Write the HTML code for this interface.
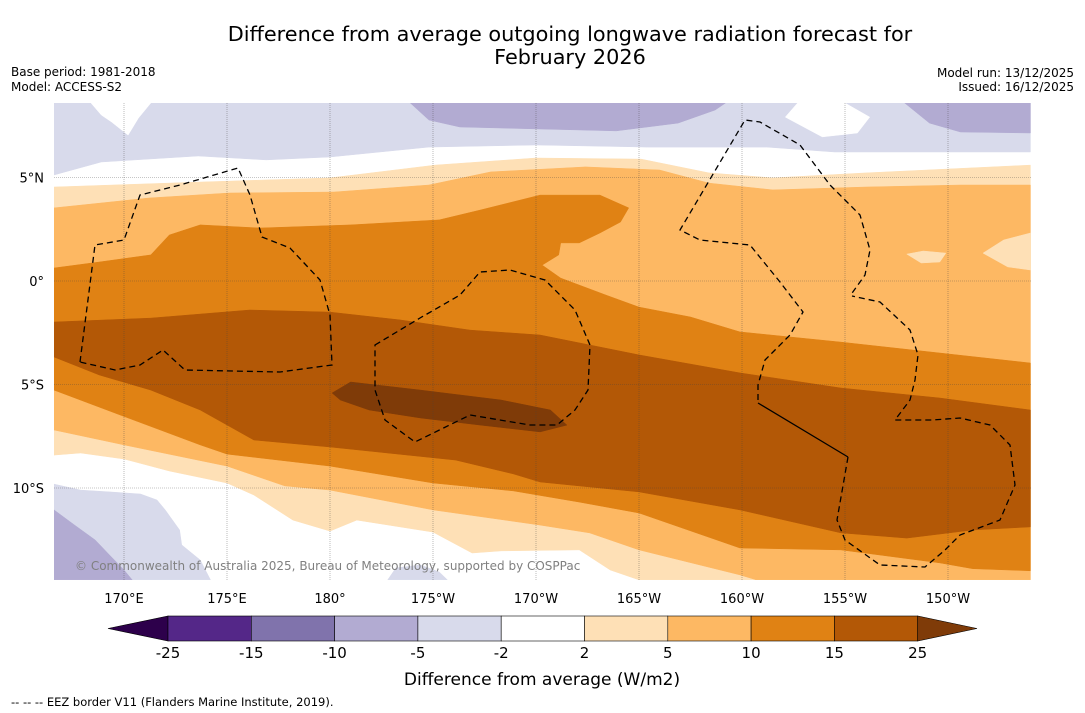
<!DOCTYPE html>
<html><head><meta charset="utf-8"><style>
html,body{margin:0;padding:0;background:#fff;width:1085px;height:713px;overflow:hidden;font-family:"DejaVu Sans","Liberation Sans",sans-serif}
svg{display:block}
</style></head><body>
<svg id="chart" width="1085" height="713" viewBox="0 0 1085 713" xmlns="http://www.w3.org/2000/svg">
<text x="570" y="41" text-anchor="middle" font-size="20.8">Difference from average outgoing longwave radiation forecast for</text>
<text x="570" y="64" text-anchor="middle" font-size="20.8">February 2026</text>
<text x="11" y="76" font-size="12">Base period: 1981-2018</text>
<text x="11" y="91" font-size="12">Model: ACCESS-S2</text>
<text x="1074" y="77" text-anchor="end" font-size="12">Model run: 13/12/2025</text>
<text x="1074" y="91" text-anchor="end" font-size="12">Issued: 16/12/2025</text>
<defs><clipPath id="plotclip"><rect x="54" y="103" width="977" height="477"/></clipPath></defs>
<g id="map" clip-path="url(#plotclip)">
<rect x="54" y="103" width="977" height="477" fill="#ffffff"/>
</g>
<g id="grid"></g>
<g id="eez" clip-path="url(#plotclip)"></g>
<g id="axes"></g>
<text x="75" y="570" font-size="12" fill="#808080">© Commonwealth of Australia 2025, Bureau of Meteorology, supported by COSPPac</text>
<g id="colorbar"></g>
<text x="542" y="685" text-anchor="middle" font-size="17">Difference from average (W/m2)</text>
<text x="11" y="706" font-size="11.5">--  --  -- EEZ border V11 (Flanders Marine Institute, 2019).</text>
</svg>
<script>
// ---- data ----
const lonTicks = [170,175,180,185,190,195,200,205,210];
const lonTickLabels = ["170°E","175°E","180°","175°W","170°W","165°W","160°W","155°W","150°W"];
const latTicks = [5,0,-5,-10];
const latTickLabels = ["5°N","0°","5°S","10°S"];
const levels = [-25,-15,-10,-5,-2,2,5,10,15,25];
const levelColors = ["#542788","#8073ac","#b2abd2","#d8daeb","#ffffff","#fee0b6","#fdb863","#e08214","#b35806"];
const underColor = "#2d004b";
const overColor = "#7f3b08";

// contour bands as [lon(°E, 0-360), lat]
const bandTopPurpleLight = [[166.6,8.6],[214,8.6],[214,6.23],[204.5,6.23],[201.2,6.47],[195.4,6.47],[190,6.57],[184.8,6.47],[180,5.99],[176.9,5.85],[173.6,6.04],[168.9,5.75],[166.6,5.12]];
const bandTopWhiteLeft = [[168.4,8.6],[171.3,8.6],[170.7,7.87],[170.2,7.05],[169.4,7.68],[168.9,8.02]];
const bandTopPurpleMid = [[183.9,8.6],[199.2,8.6],[198.7,8.26],[196.9,7.63],[193.9,7.25],[186.3,7.44],[184.8,7.78]];
const bandTopPurpleRight = [[207.9,8.6],[214,8.6],[214,7.15],[210.6,7.2],[209.1,7.63]];
const bandTopWhiteBump = [[202.7,8.6],[205,8.6],[206.2,7.92],[205.6,7.15],[203.9,6.96],[203,7.44],[202.1,7.92]];
const bandBottomPurpleLight = [[166.6,-9.81],[167.9,-10.1],[169.3,-10.19],[170.8,-10.29],[171.6,-10.58],[172,-11.06],[172.7,-12.03],[172.8,-12.75],[173.7,-13.48],[174.2,-14.44],[166.6,-14.44]];
const bandBottomPurpleBlob = [[182.8,-14.44],[183.2,-13.86],[184.4,-13.72],[185.3,-14.06],[185.7,-14.44]];
const bandBottomPurpleMid = [[166.6,-11.06],[167.6,-11.79],[168.6,-12.51],[169.3,-13.24],[170,-13.96],[170.4,-14.44],[166.6,-14.44]];
const bandGe2 = [[166.6,4.54],[173.6,4.78],[180,4.98],[185.1,5.6],[190,5.94],[195.1,5.89],[198.4,5.22],[201.5,4.98],[206,5.22],[214,5.6],[214,-14.44],[195,-14.44],[193.6,-13.96],[192.1,-12.99],[188.3,-13.04],[186.9,-13.14],[185,-12.13],[181.3,-11.55],[180,-12.08],[178.2,-11.55],[176.3,-10.34],[175,-9.76],[172.2,-9.18],[170,-8.6],[167.9,-8.31],[166.6,-8.41]];
const bandGe5 = [[166.6,3.53],[171.2,4.01],[175.1,4.25],[180.2,4.3],[184.8,4.64],[187.8,5.27],[192.4,5.51],[196,5.36],[198.4,4.73],[201.5,4.4],[206,4.54],[210.6,4.64],[214,4.64],[214,-14.44],[200.7,-14.44],[199.9,-14.2],[195,-12.99],[192.6,-12.17],[190.2,-11.79],[185,-11.06],[180,-10.1],[177.8,-9.9],[175,-8.94],[170,-7.92],[166.6,-7.2]];
const bandPatchA = [[208,1.3],[208.8,1.45],[209.9,1.35],[209.6,0.92],[208.7,0.87]];
const bandPatchB = [[211.7,1.35],[212.7,1.98],[214,2.32],[214,0.53],[212.9,0.68]];
const bandGe10 = [[166.6,0.63],[168.8,0.92],[171.3,1.26],[172.2,2.22],[173.7,2.71],[176.6,2.56],[181,2.71],[185.3,2.95],[187.3,3.43],[190.2,4.15],[193.1,4.15],[194.5,3.53],[194.1,2.85],[193.1,2.32],[192.1,1.84],[191.2,1.84],[191.1,1.26],[190.3,0.77],[191.2,0.14],[193.4,-0.68],[195,-1.26],[197.5,-1.74],[199.9,-2.46],[204.8,-2.95],[209.6,-3.48],[214,-3.96],[214,-14.0],[211.2,-13.9],[209.6,-13.62],[204.8,-12.99],[199.9,-12.9],[195,-11.21],[192.1,-10.68],[188.9,-10.14],[185,-9.76],[180,-8.94],[175,-8.36],[173.7,-7.92],[169.8,-6.47],[166.6,-5.27]];
const bandGe15 = [[166.6,-1.98],[171.3,-1.79],[176.1,-1.4],[180,-1.5],[183.4,-1.88],[186.8,-2.37],[190.2,-2.61],[195,-3.57],[199.9,-4.44],[204.8,-5.17],[209.6,-5.65],[214,-6.23],[214,-11.88],[211.2,-12.03],[208,-12.42],[204.8,-12.17],[199.9,-11.06],[195,-10.19],[190.2,-9.71],[188.9,-9.32],[186.1,-8.65],[180,-8.02],[176.3,-7.68],[173.7,-6.23],[171.3,-5.27],[168.8,-4.54],[166.6,-3.67]];
const bandGe25 = [[180.1,-5.41],[181,-4.88],[184.4,-5.27],[188.3,-5.75],[190.7,-6.23],[191.5,-6.96],[190.2,-7.29],[187.3,-6.96],[184.4,-6.62],[181.9,-6.23],[180.5,-5.75]];

const bands = [
  [bandTopPurpleLight,"#d8daeb","band-minus5-top"],
  [bandTopWhiteLeft,"#ffffff","band-neutral-topleft"],
  [bandTopPurpleMid,"#b2abd2","band-minus10-top"],
  [bandTopPurpleRight,"#b2abd2","band-minus10-topright"],
  [bandTopWhiteBump,"#ffffff","band-neutral-top"],
  [bandBottomPurpleLight,"#d8daeb","band-minus5-bottom"],
  [bandBottomPurpleBlob,"#d8daeb","band-minus5-blob"],
  [bandBottomPurpleMid,"#b2abd2","band-minus10-bottom"],
  [bandGe2,"#fee0b6","band-2-5"],
  [bandGe5,"#fdb863","band-5-10"],
  [bandPatchA,"#fee0b6","band-2-5-patch"],
  [bandPatchB,"#fee0b6","band-2-5-patch-east"],
  [bandGe10,"#e08214","band-10-15"],
  [bandGe15,"#b35806","band-15-25"],
  [bandGe25,"#7f3b08","band-over-25"]
];

// ---- axis functions ----
const X = lon => 124 + (lon - 170) * 20.6;
const Y = lat => 281 - lat * 20.7;
const NS = "http://www.w3.org/2000/svg";
function mk(tag, attrs, parent){const e=document.createElementNS(NS,tag);for(const k in attrs)e.setAttribute(k,attrs[k]);parent.appendChild(e);return e;}

const map = document.getElementById('map');
bands.forEach(b => {
  const p = mk('polygon', {points: b[0].map(q => X(q[0]).toFixed(1)+','+Y(q[1]).toFixed(1)).join(' '), fill: b[1], stroke: b[1], 'stroke-width': 0.5}, map);
  
  
});

// graticule
const grid = document.getElementById('grid');
lonTicks.forEach(l => {
  const ln = mk('line', {x1:X(l), x2:X(l), y1:103, y2:580, stroke:'#444', 'stroke-width':0.6, 'stroke-dasharray':'1,1', opacity:0.6}, grid);
  
  
});
latTicks.forEach(l => {
  const ln = mk('line', {x1:54, x2:1031, y1:Y(l), y2:Y(l), stroke:'#444', 'stroke-width':0.6, 'stroke-dasharray':'1,1', opacity:0.6}, grid);
  
  
});

// EEZ borders (decorative outlines)
const eez = document.getElementById('eez');
const eezPaths = [
  ["M80,362 L95,245 L124,240 L140,195 L180,185 L238,168 L250,195 L262,237 L290,248 L320,280 L330,315 L332,365 L280,372 L185,370 L163,350 L140,365 L115,370 Z", true],
  ["M375,345 L420,318 L460,295 L480,272 L510,270 L545,280 L575,310 L590,345 L588,390 L575,410 L557,425 L530,425 L470,415 L415,442 L385,420 L375,390 Z", true],
  ["M758,400 L758,385 L765,360 L790,335 L803,312 L780,282 L750,245 L700,240 L680,230 L745,120 L760,122 L800,145 L830,185 L860,215 L870,250 L865,275 L850,296", true],
  ["M758,403 L848,457", false],
  ["M848,457 L837,520 L845,540 L880,565 L925,567 L945,550 L960,535 L1000,520 L1015,485 L1010,445 L990,425 L960,418 L932,420 L895,420 L910,400 L915,380 L918,355 L910,330 L880,302 L852,296", true]
];
eezPaths.forEach(p => {
  const e = mk('path', {d:p[0], fill:'none', stroke:'#000', 'stroke-width':1.3, 'stroke-dasharray': p[1] ? '6,4' : 'none'}, eez);
  
  
});

// tick labels
const axes = document.getElementById('axes');
lonTicks.forEach((l,i) => {
  const t = mk('text', {x:X(l), y:603, 'text-anchor':'middle', 'font-size':13}, axes);
  t.textContent = lonTickLabels[i];
  
  
});
latTicks.forEach((l,i) => {
  const t = mk('text', {x:44, y:Y(l)+5, 'text-anchor':'end', 'font-size':13}, axes);
  t.textContent = latTickLabels[i];
  
  
});

// colorbar
const cb = document.getElementById('colorbar');
const cbX0 = 168, cbW = 83.3, cbY = 616, cbH = 25;
const under = mk('polygon', {points:`${cbX0},${cbY} ${cbX0},${cbY+cbH} 108,${cbY+cbH/2}`, fill:underColor, stroke:'#000', 'stroke-width':0.6}, cb);


levelColors.forEach((c,i) => {
  const r = mk('rect', {x:cbX0+i*cbW, y:cbY, width:cbW, height:cbH, fill:c, stroke:'#000', 'stroke-width':0.6}, cb);
  
  
});
const xe = cbX0 + levelColors.length*cbW;
const over = mk('polygon', {points:`${xe},${cbY} ${xe},${cbY+cbH} 977,${cbY+cbH/2}`, fill:overColor, stroke:'#000', 'stroke-width':0.6}, cb);


levels.forEach((v,i) => {
  const t = mk('text', {x:cbX0+i*cbW, y:658, 'text-anchor':'middle', 'font-size':15}, cb);
  t.textContent = v;
  
  
});
</script>
</body></html>
